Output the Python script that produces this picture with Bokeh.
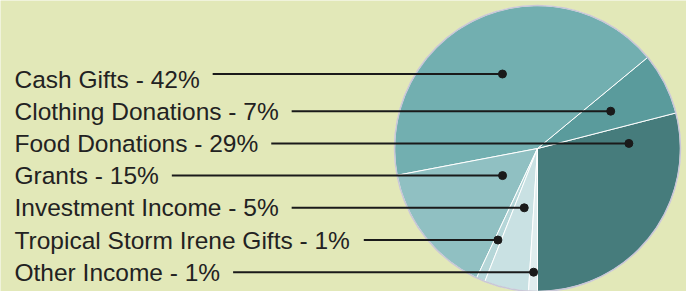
import math
from bokeh.plotting import figure
from bokeh.models import Range1d, ColumnDataSource
from bokeh.core.properties import value
from bokeh.embed import file_html
from bokeh.resources import INLINE

# ---- data (label order) ----
categories = ["Cash Gifts", "Clothing Donations", "Food Donations", "Grants",
              "Investment Income", "Tropical Storm Irene Gifts", "Other Income"]
percents = [42, 7, 29, 15, 5, 1, 1]
# order of slices around the pie, anticlockwise starting at six o'clock
pie_order = ["Food Donations", "Clothing Donations", "Cash Gifts", "Grants",
             "Tropical Storm Irene Gifts", "Investment Income", "Other Income"]

# ---- styles ----
slice_colors = {
    "Cash Gifts": "#72afb0",
    "Clothing Donations": "#5a9b9c",
    "Food Donations": "#467c7c",
    "Grants": "#90c0c2",
    "Tropical Storm Irene Gifts": "#b5d6d8",
    "Investment Income": "#c9e1e3",
    "Other Income": "#e0edee",
}
BG = "#e2e8b8"
TEXT = "#222222"
R = 143.0
W, H = 686, 291
CX, CY = 537, 148          # pie centre in page pixels
FONT_PX = 24.5

# Arial / Liberation Sans advance widths (per 1000 em) for layout of leader lines
ADV = {' ': 278, '-': 333, '%': 889, 'A': 667, 'C': 722, 'D': 722, 'F': 611, 'G': 778,
       'I': 278, 'O': 778, 'S': 667, 'T': 611, 'a': 556, 'c': 500, 'd': 556, 'e': 556,
       'f': 278, 'g': 556, 'h': 556, 'i': 222, 'l': 222, 'm': 833, 'n': 556, 'o': 556,
       'p': 556, 'r': 333, 's': 500, 't': 278, 'u': 556, 'v': 500}


def text_width(s):
    return sum(ADV.get(ch, 556) for ch in s) * FONT_PX / 1000.0


p = figure(width=W, height=H, output_backend="svg", toolbar_location=None,
           x_range=Range1d(-CX, W - CX), y_range=Range1d(CY - H, CY),
           min_border=0)
p.axis.visible = False
p.grid.visible = False
p.outline_line_color = None
p.background_fill_color = BG
p.border_fill_color = BG

# ---- slices ----
pct = dict(zip(categories, percents))
total = float(sum(percents))
starts, ends, cols = [], [], []
a = -math.pi / 2
angles = {}
for c in pie_order:
    span = pct[c] / total * 2 * math.pi
    starts.append(a)
    ends.append(a + span)
    cols.append(slice_colors[c])
    angles[c] = (a, a + span)
    a += span

src = ColumnDataSource(dict(start=starts, end=ends, color=cols))
p.wedge(x=0, y=0, radius=R, start_angle="start", end_angle="end",
        fill_color="color", line_color="white", line_width=1, source=src)
p.circle(x=[0], y=[0], radius=R, fill_color=None, line_color="#c9c7d6", line_width=1.5)

# ---- labels & leaders ----
labels = [f"{c} - {v}%" for c, v in zip(categories, percents)]
text_x = 14 - CX
top_mid = CY - 78.5          # vertical centre of the first label row
row_step = 32.2
mids = [top_mid - i * row_step for i in range(len(categories))]
leader_dy = [5.0, 0, 0, 0, 0, 0, 0]

p.text(x=[text_x] * len(labels), y=mids, text=labels,
       text_font=value("Liberation Sans"), text_font_size=f"{FONT_PX}px",
       text_baseline="middle", text_align="left", text_color=TEXT)

xs0, xs1, ys = [], [], []
for c, lab, m, dy in zip(categories, labels, mids, leader_dy):
    yl = m + dy
    s, e = angles[c]
    mid = (s + e) / 2
    sm = math.sin(mid)
    if sm * yl > 0 and abs(yl / sm) <= 0.9 * R:
        xd = yl / math.tan(mid)
    else:
        rr = 0.64 * R
        xd = math.copysign(math.sqrt(max(rr * rr - yl * yl, 0)), math.cos(mid))
    xs0.append(text_x + text_width(lab) + 13)
    xs1.append(xd)
    ys.append(yl)

p.segment(x0=xs0, y0=ys, x1=xs1, y1=ys, line_color="#1a1a1a", line_width=2)
p.scatter(x=xs1, y=ys, size=8, fill_color="#1a1a1a", line_color="#1a1a1a")

open("out.html", "w").write(file_html(p, INLINE))
